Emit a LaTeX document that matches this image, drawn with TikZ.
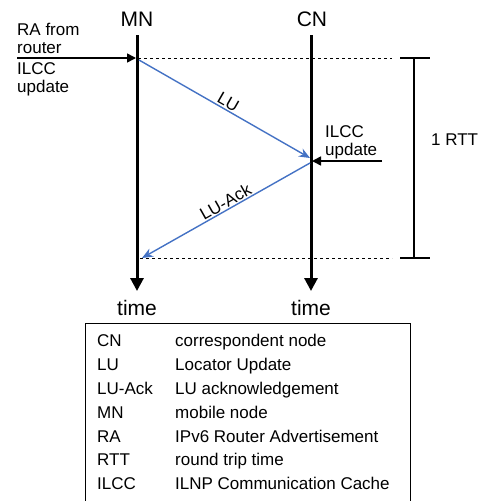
\documentclass[tikz,border=0pt]{standalone}
\usepackage{fontspec}
\setmainfont{Liberation Sans}
\usetikzlibrary{arrows.meta}
\definecolor{msgblue}{RGB}{68,114,196}
\begin{document}
\begin{tikzpicture}[x=1pt,y=-1pt,
  life/.style={line width=3pt,-{Triangle[length=13pt,width=13pt]}},
  dots/.style={line width=0.8pt,dash pattern=on 3pt off 3pt},
  msg/.style={msgblue,line width=1.4pt,-{Stealth[length=11pt,width=9pt]}},
  ext/.style={line width=1.6pt,-{Triangle[length=9pt,width=9pt]}},
  big/.style={font=\fontsize{21}{24}\selectfont,anchor=base,inner sep=0pt},
  small/.style={font=\fontsize{17}{18}\selectfont},
  lbl/.style={font=\fontsize{17}{18}\selectfont,anchor=base west,inner sep=0pt},
  leg/.style={font=\fontsize{17}{18}\selectfont,anchor=base west,inner sep=0pt}]
\useasboundingbox (0,0) rectangle (479,501);
% lifelines
\coordinate (mntop) at (137,35);
\coordinate (mnbot) at (137,291);
\coordinate (cntop) at (311,35);
\coordinate (cnbot) at (311,291);
\draw[life] (mntop) -- (mnbot);
\draw[life] (cntop) -- (cnbot);
\node[big] (mn) at (137,26) {MN};
\node[big] (cn) at (312,26) {CN};
\node[big] (t1) at (137,315) {time};
\node[big] (t2) at (311,315) {time};
% dotted lines
\coordinate (d1a) at (138,58);
\coordinate (d1b) at (392,58);
\coordinate (d2a) at (140,258);
\coordinate (d2b) at (392,258);
\draw[dots] (d1a) -- (d1b);
\draw[dots] (d2a) -- (d2b);
% RTT bracket
\coordinate (b1l) at (400,58);
\coordinate (b1r) at (430,58);
\coordinate (b2l) at (400,258);
\coordinate (b2r) at (430,258);
\coordinate (b1m) at (414,58);
\coordinate (b2m) at (414,258);
\draw[line width=1.3pt] (b1l) -- (b1r) (b2l) -- (b2r) (b1m) -- (b2m);
\node[lbl] (rtt) at (431,145) {1 RTT};
% RA arrow
\coordinate (rastart) at (17,58);
\coordinate (raend) at (136,58);
\draw[ext] (rastart) -- (raend);
\node[lbl] (ra1) at (17,35) {RA from};
\node[lbl] (ra2) at (17,53) {router};
\node[lbl] (il1) at (17,74) {ILCC};
\node[lbl] (il2) at (17,92) {update};
% CN ILCC arrow
\coordinate (cnstart) at (382,161);
\coordinate (cnend) at (312,161);
\draw[ext] (cnstart) -- (cnend);
\node[lbl] (il3) at (325,137) {ILCC};
\node[lbl] (il4) at (325,155) {update};
% messages
\coordinate (lus) at (139,60);
\coordinate (lue) at (310,158);
\coordinate (las) at (310,163);
\coordinate (lae) at (142,258);
\draw[msg] (lus) -- node[small,sloped,above,pos=0.5,inner sep=1pt,text=black] {LU} (lue);
\draw[msg] (las) -- node[small,sloped,above,pos=0.48,inner sep=1pt,text=black] {LU-Ack} (lae);
% legend
\node[draw,line width=1pt,minimum width=325pt,minimum height=185pt,anchor=north west] (legend) at (85,323) {};
\foreach \a/\b [count=\i] in {CN/correspondent node,LU/Locator Update,LU-Ack/LU acknowledgement,MN/mobile node,RA/IPv6 Router Advertisement,RTT/round trip time,ILCC/ILNP Communication Cache}{
  \node[leg] (ka\i) at (97,{323+\i*23.8}) {\a};
  \node[leg] (kb\i) at (175,{323+\i*23.8}) {\b};
}
\end{tikzpicture}
\end{document}
